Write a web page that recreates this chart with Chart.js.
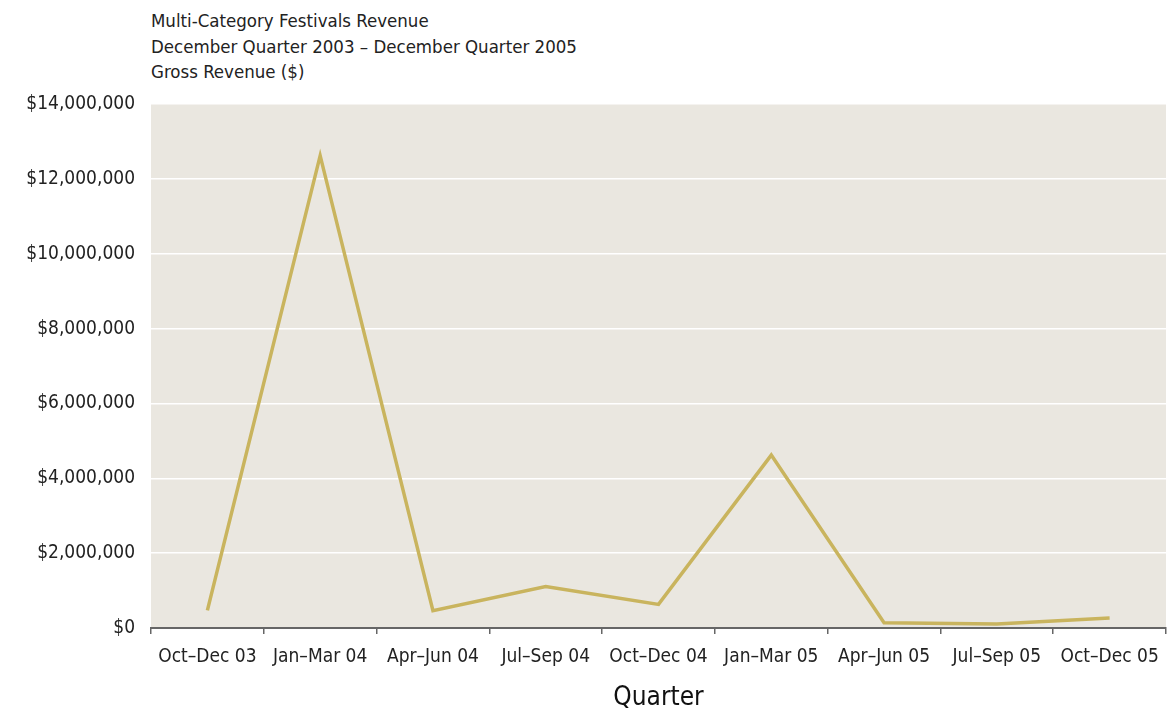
<!DOCTYPE html>
<html lang="en">
<head>
  <meta charset="UTF-8" />
  <title>Multi-Category Festivals Revenue</title>
  <script src="https://cdn.jsdelivr.net/npm/chart.js"></script>
<style>
  html, body {
    margin: 0;
    padding: 0;
    background: #fff;
  }
  .wrap {
    position: relative;
    width: 1167px;
    height: 715px;
  }
  .heading {
    position: absolute;
    left: 151px;
    top: 8px;
    font-family: "Liberation Sans Narrow", "DejaVu Sans Condensed", sans-serif;
    font-size: 18.5px;
    line-height: 25.5px;
    color: #222;
  }
  canvas {
    position: absolute;
    left: 0;
    top: 0;
  }
</style>
</head>
<body>
  <div class="wrap">
    <div class="heading">
      Multi-Category Festivals Revenue<br>
      December Quarter 2003 – December Quarter 2005<br>
      Gross Revenue ($)
    </div>
    <canvas id="revenueChart" width="1167" height="715"></canvas>
  </div>

<script>
  const FONT = '"Liberation Sans Narrow", "DejaVu Sans Condensed", sans-serif';

  // quarters on the x axis
  const quarters = [
    'Oct–Dec 03', 'Jan–Mar 04', 'Apr–Jun 04', 'Jul–Sep 04', 'Oct–Dec 04',
    'Jan–Mar 05', 'Apr–Jun 05', 'Jul–Sep 05', 'Oct–Dec 05'
  ];

  // gross revenue per quarter ($)
  const grossRevenue = [
    470000, 12620000, 460000, 1110000, 630000,
    4620000, 140000, 110000, 270000
  ];

  // y axis ticks
  const yTicks = [0, 2000000, 4000000, 6000000, 8000000, 10000000, 12000000, 14000000];

  // fill the plot area before anything else is drawn
  const plotBackground = {
    id: 'plotBackground',
    beforeDraw(chart) {
      const { ctx, chartArea: a } = chart;
      ctx.save();
      ctx.fillStyle = '#eae7e0';
      ctx.fillRect(a.left, a.top, a.right - a.left, a.bottom - a.top);
      ctx.restore();
    }
  };

  const money = v => '$' + v.toLocaleString('en-US');

  new Chart(document.getElementById('revenueChart'), {
    type: 'line',
    data: {
      labels: quarters,
      datasets: [{
        label: 'Gross Revenue ($)',
        data: grossRevenue,
        borderColor: '#c9b45e',
        borderWidth: 3.5,
        pointRadius: 0,
        pointHoverRadius: 0,
        tension: 0,
        fill: false
      }]
    },
    options: {
      responsive: false,
      animation: false,
      layout: {
        padding: { top: 104, right: 1, left: 0, bottom: 0 }
      },
      plugins: {
        legend: { display: false },
        tooltip: { enabled: false }
      },
      scales: {
        x: {
          offset: true,
          grid: {
            offset: true,
            drawOnChartArea: false,
            drawTicks: true,
            tickLength: 6,
            color: '#666',
            lineWidth: 1.5
          },
          border: { display: true, color: '#666', width: 2 },
          ticks: {
            color: '#222',
            font: { family: FONT, size: 19 },
            padding: 12,
            maxRotation: 0,
            autoSkip: false
          },
          title: {
            display: true,
            text: 'Quarter',
            color: '#111',
            font: { family: FONT, size: 26 },
            padding: { top: 0, bottom: 1 }
          },
          afterFit(scale) {
            scale.height = 87;
            // labels may hang past the last category; keep the plot full width
            scale.paddingLeft = 0;
            scale.paddingRight = 0;
          }
        },
        y: {
          min: 0,
          max: 14000000,
          afterBuildTicks(scale) {
            scale.ticks = yTicks.map(v => ({ value: v }));
          },
          grid: {
            drawTicks: false,
            lineWidth: 1.5,
            color: ctx => (ctx.tick && ctx.tick.value === 0) ? 'rgba(0,0,0,0)' : '#ffffff'
          },
          border: { display: false },
          ticks: {
            color: '#222',
            font: { family: FONT, size: 19 },
            padding: 16,
            callback: v => money(v)
          },
          afterFit(scale) {
            scale.width = 151;
            scale.paddingTop = 0;
            scale.paddingBottom = 0;
          }
        }
      }
    },
    plugins: [plotBackground]
  });
</script>
</body>
</html>
